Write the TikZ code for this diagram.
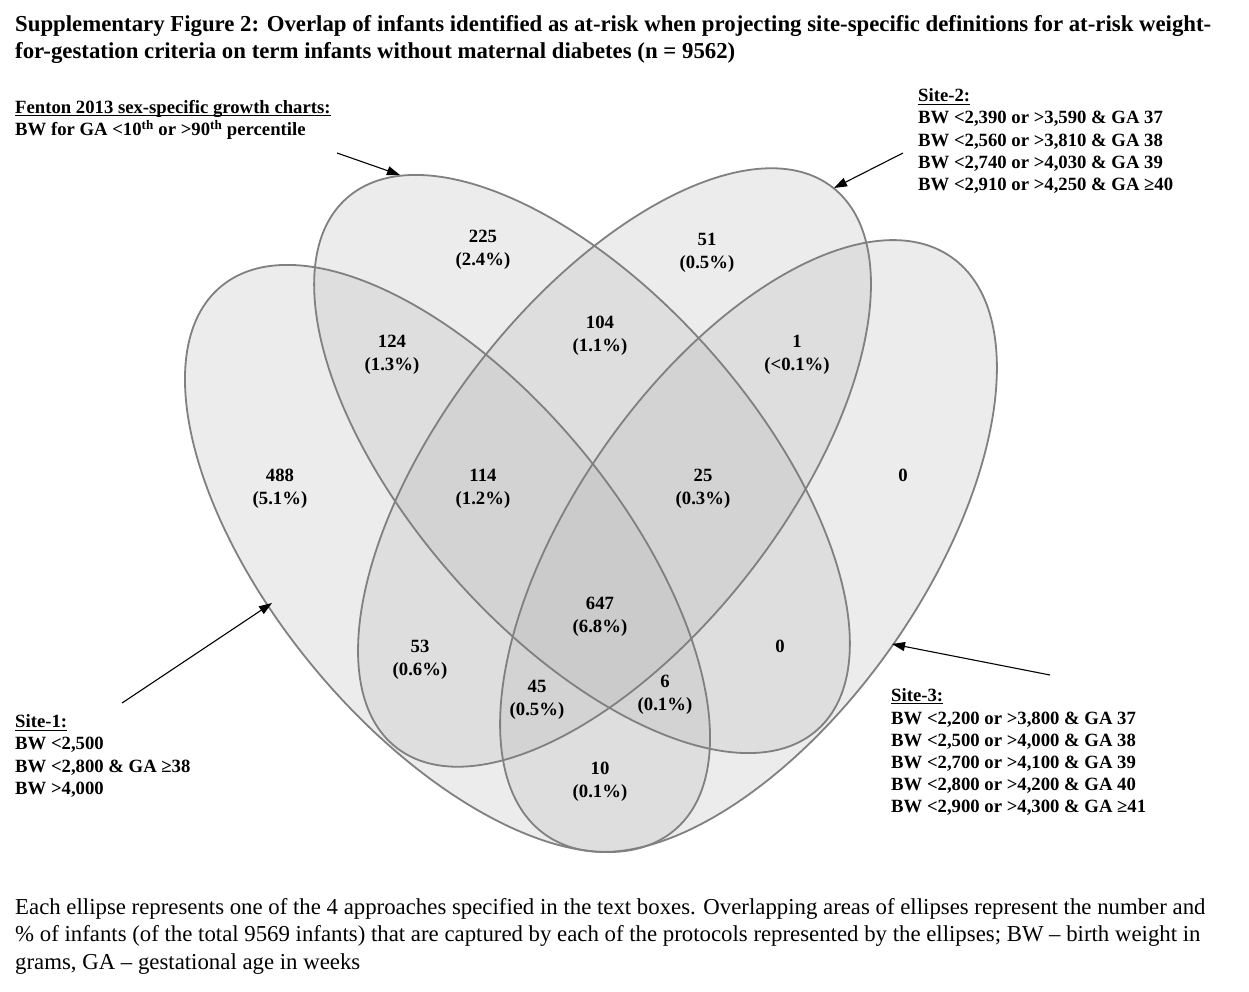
\documentclass[tikz,border=0pt]{standalone}
\usepackage{fontspec}
\setmainfont{Liberation Serif}
\usetikzlibrary{arrows.meta}
\definecolor{vedgecol}{RGB}{128,128,128}
\definecolor{vfillcol}{RGB}{183,183,183}
\begin{document}
\begin{tikzpicture}[x=1pt,y=1pt,
  vfill/.style={fill=vfillcol, fill opacity=0.26},
  vline/.style={draw=vedgecol, line width=1.8pt},
  num/.style={font=\fontsize{18.7}{23}\selectfont\bfseries, align=center, inner sep=0pt},
  lab/.style={font=\fontsize{18.7}{22.3}\selectfont\bfseries, inner sep=0pt, anchor=base west},
  ttl/.style={font=\fontsize{22.8}{27}\selectfont\bfseries, inner sep=0pt, anchor=base west},
  captxt/.style={font=\fontsize{22.8}{27}\selectfont, inner sep=0pt, anchor=base west},
  ptr/.style={draw=black, line width=1.1pt, -{Triangle[length=13pt,width=9pt]}},
  uline/.style={draw=black, line width=1.2pt},
]
\fill[white] (0,0) rectangle (1249,-992);
\useasboundingbox (0,0) rectangle (1249,-992);

% ellipse fills
\path[vfill, rotate around={-50.2:(447.5,-558.5)}] (447.5,-558.5) ellipse [x radius=354, y radius=172.5];
\path[vfill, rotate around={-48.5:(582,-464)}] (582,-464) ellipse [x radius=355, y radius=171];
\path[vfill, rotate around={52.1:(614.5,-467.5)}] (614.5,-467.5) ellipse [x radius=355, y radius=171];
\path[vfill, rotate around={54.9:(748.5,-546)}] (748.5,-546) ellipse [x radius=353, y radius=175];
% ellipse outlines
\path[vline, rotate around={-50.2:(447.5,-558.5)}] (447.5,-558.5) ellipse [x radius=354, y radius=172.5];
\path[vline, rotate around={-48.5:(582,-464)}] (582,-464) ellipse [x radius=355, y radius=171];
\path[vline, rotate around={52.1:(614.5,-467.5)}] (614.5,-467.5) ellipse [x radius=355, y radius=171];
\path[vline, rotate around={54.9:(748.5,-546)}] (748.5,-546) ellipse [x radius=353, y radius=175];

% title
\node[ttl] (t1) at (15,-31.7) {Supplementary Figure 2: Overlap of infants identified as at-risk when projecting site-specific definitions for at-risk weight-};
\node[ttl] (t2) at (15,-58.5) {for-gestation criteria on term infants without maternal diabetes (n = 9562)};

% Fenton label
\node[lab] (f1) at (15,-113.3) {Fenton 2013 sex-specific growth charts:};
\node[lab] (f2) at (15,-135.3) {BW for GA <10\textsuperscript{th} or >90\textsuperscript{th} percentile};

% Site-2 label
\node[lab] (s2h) at (918,-102) {Site-2:};
\node[lab] (s2a) at (918,-124) {BW <2,390 or >3,590 \& GA 37};
\node[lab] (s2b) at (918,-146.3) {BW <2,560 or >3,810 \& GA 38};
\node[lab] (s2c) at (918,-168.6) {BW <2,740 or >4,030 \& GA 39};
\node[lab] (s2d) at (918,-190.9) {BW <2,910 or >4,250 \& GA ≥40};

% Site-1 label
\node[lab] (s1h) at (15,-727.7) {Site-1:};
\node[lab] (s1a) at (15,-749.5) {BW <2,500};
\node[lab] (s1b) at (15,-772) {BW <2,800 \& GA ≥38};
\node[lab] (s1c) at (15,-794.3) {BW >4,000};

% Site-3 label
\node[lab] (s3h) at (891,-701) {Site-3:};
\node[lab] (s3a) at (891,-724) {BW <2,200 or >3,800 \& GA 37};
\node[lab] (s3b) at (891,-746) {BW <2,500 or >4,000 \& GA 38};
\node[lab] (s3c) at (891,-768) {BW <2,700 or >4,100 \& GA 39};
\node[lab] (s3d) at (891,-790) {BW <2,800 or >4,200 \& GA 40};
\node[lab] (s3e) at (891,-812) {BW <2,900 or >4,300 \& GA ≥41};

% underlines of headings
\foreach \h in {f1,s2h,s1h,s3h}
  \draw[uline] ([yshift=-2.6pt]\h.base west) -- ([yshift=-2.6pt]\h.base east);

% arrows
\coordinate (fT) at (337,-153);  \coordinate (fH) at (400,-175);
\coordinate (s2T) at (903,-153); \coordinate (s2H) at (834,-188);
\coordinate (s1T) at (122,-703); \coordinate (s1H) at (272,-603);
\coordinate (s3T) at (1050,-675);\coordinate (s3H) at (892,-644);
\draw[ptr] (fT) -- (fH);
\draw[ptr] (s2T) -- (s2H);
\draw[ptr] (s1T) -- (s1H);
\draw[ptr] (s3T) -- (s3H);

% region counts
\node[num] (r225) at (483,-249.5) {225\\(2.4\%)};
\node[num] (r51)  at (707,-252.5) {51\\(0.5\%)};
\node[num] (r124) at (392,-354.5) {124\\(1.3\%)};
\node[num] (r104) at (600,-335.5) {104\\(1.1\%)};
\node[num] (r1)   at (797,-354.5) {1\\(<0.1\%)};
\node[num] (r488) at (280,-488.5) {488\\(5.1\%)};
\node[num] (r114) at (483,-488.5) {114\\(1.2\%)};
\node[num] (r25)  at (703,-488.5) {25\\(0.3\%)};
\node[num] (r0a)  at (903,-475) {0};
\node[num] (r647) at (600,-616.5) {647\\(6.8\%)};
\node[num] (r53)  at (420,-659.5) {53\\(0.6\%)};
\node[num] (r0b)  at (780,-646) {0};
\node[num] (r45)  at (537,-699.5) {45\\(0.5\%)};
\node[num] (r6)   at (665,-694.5) {6\\(0.1\%)};
\node[num] (r10)  at (600,-781.5) {10\\(0.1\%)};

% caption
\node[captxt] (c1) at (15,-914) {Each ellipse represents one of the 4 approaches specified in the text boxes. Overlapping areas of ellipses represent the number and};
\node[captxt] (c2) at (15,-941.5) {\% of infants (of the total 9569 infants) that are captured by each of the protocols represented by the ellipses; BW – birth weight in};
\node[captxt] (c3) at (15,-969) {grams, GA – gestational age in weeks};
\end{tikzpicture}
\end{document}
